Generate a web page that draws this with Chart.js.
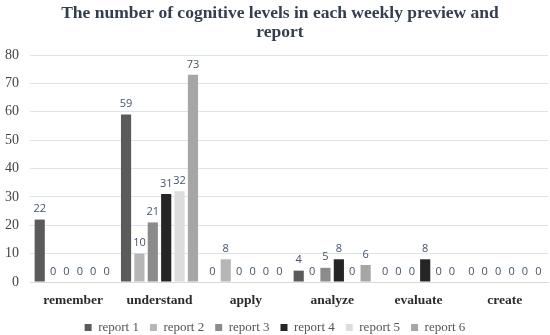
<!DOCTYPE html>
<html>
<head>
<meta charset="utf-8">
<script src="https://cdn.jsdelivr.net/npm/chart.js@4/dist/chart.umd.min.js"></script>
<style>
html,body{margin:0;padding:0;background:#fff;}
#wrap{width:550px;height:335px;position:relative;}
</style>
</head>
<body>
<div id="wrap"><canvas id="c" width="550" height="335"></canvas></div>
<script>
const categories = ["remember", "understand", "apply", "analyze", "evaluate", "create"];
const seriesNames = ["report 1", "report 2", "report 3", "report 4", "report 5", "report 6"];
const report1 = [22, 59, 0, 4, 0, 0];
const report2 = [0, 10, 8, 0, 0, 0];
const report3 = [0, 21, 0, 5, 0, 0];
const report4 = [0, 31, 0, 8, 8, 0];
const report5 = [0, 32, 0, 0, 0, 0];
const report6 = [0, 73, 0, 6, 0, 0];
const yTicks = [0, 10, 20, 30, 40, 50, 60, 70, 80];
const titleText = ["The number of cognitive levels in each weekly preview and", "report"];

const seriesValues = [report1, report2, report3, report4, report5, report6];
const colors = ["#5b5b5b", "#b6b6b6", "#8b8b8b", "#252525", "#dddddd", "#a6a6a6"];
const serif = "'Liberation Serif', 'Times New Roman', serif";

const labelPlugin = {
  id: "valueLabels",
  afterDatasetsDraw(chart) {
    const ctx = chart.ctx;
    ctx.save();
    ctx.font = "11px 'Open Sans', 'DejaVu Sans', sans-serif";
    ctx.fillStyle = "#44546a";
    ctx.textAlign = "center";
    ctx.textBaseline = "bottom";
    chart.data.datasets.forEach((ds, i) => {
      const meta = chart.getDatasetMeta(i);
      meta.data.forEach((el, j) => {
        ctx.fillText(String(ds.data[j]), el.x, el.y - 5);
      });
    });
    ctx.restore();
  }
};

const titlePlugin = {
  id: "offsetTitle",
  afterDraw(chart) {
    const ctx = chart.ctx;
    ctx.save();
    ctx.font = "bold 17.5px " + serif;
    ctx.fillStyle = "#333f4f";
    ctx.textAlign = "center";
    ctx.textBaseline = "middle";
    titleText.forEach((t, i) => ctx.fillText(t, 280, 13 + i * 19.5));
    ctx.restore();
  }
};

new Chart(document.getElementById("c"), {
  type: "bar",
  data: {
    labels: categories,
    datasets: seriesNames.map((n, i) => ({
      label: n,
      data: seriesValues[i],
      backgroundColor: colors[i],
      borderWidth: 0,
      categoryPercentage: 0.93,
      barPercentage: 0.76
    }))
  },
  options: {
    responsive: false,
    animation: false,
    devicePixelRatio: 1,
    layout: { padding: { left: 2, right: 2, top: 55, bottom: -9 } },
    plugins: {
      title: { display: false },
      legend: {
        position: "bottom",
        labels: {
          color: "#555555",
          font: { family: serif, size: 13 },
          boxWidth: 7,
          boxHeight: 7,
          padding: 11
        }
      },
      tooltip: { enabled: false }
    },
    scales: {
      x: {
        afterFit(axis) { axis.height = 28; },
        grid: { display: false, drawTicks: false },
        border: { display: true, color: "#d9d9d9", width: 1 },
        ticks: {
          color: "#2b2b2b",
          font: { family: serif, size: 13.5, weight: "bold", lineHeight: 0.5 },
          padding: 15,
          autoSkip: false,
          maxRotation: 0
        }
      },
      y: {
        min: 0,
        max: 80,
        afterBuildTicks(axis) { axis.ticks = yTicks.map(v => ({ value: v })); },
        afterFit(axis) { axis.width = 28; },
        grid: { color: "#dde3ea", drawTicks: false },
        border: { display: false },
        ticks: {
          color: "#444444",
          font: { family: serif, size: 14 },
          padding: 11
        }
      }
    }
  },
  plugins: [labelPlugin, titlePlugin]
});
</script>
</body>
</html>
